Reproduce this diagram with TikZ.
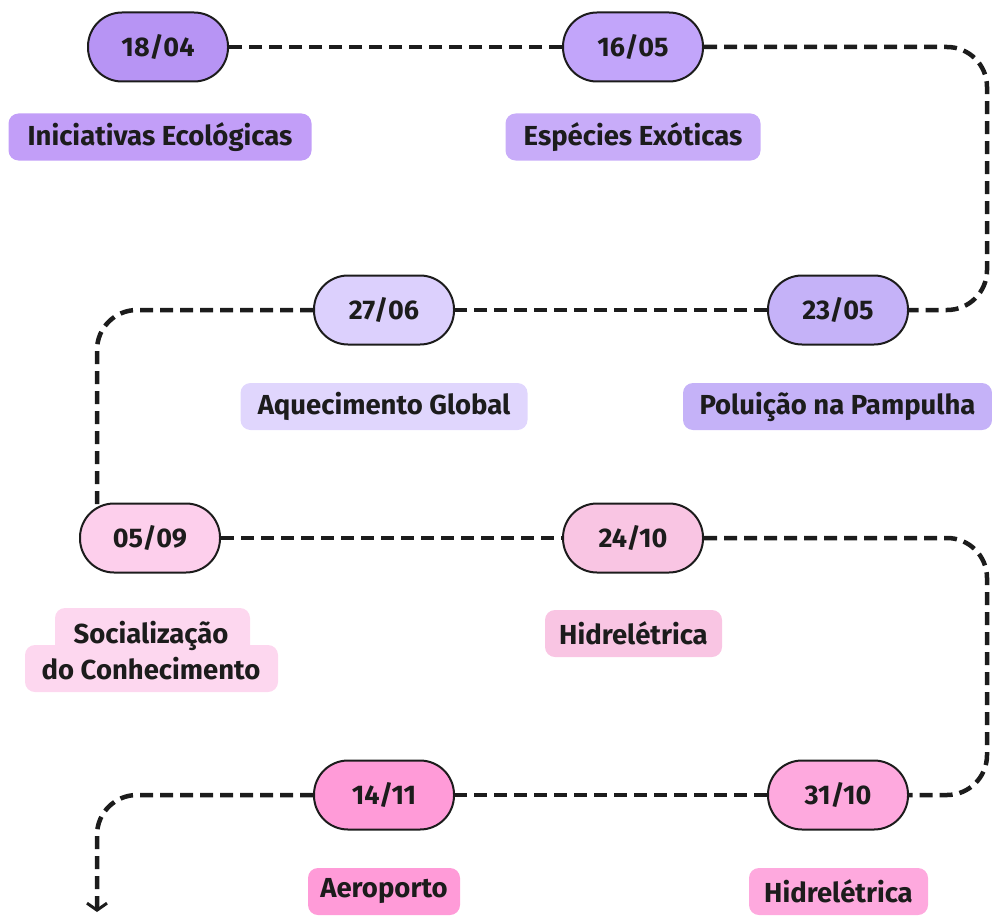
\documentclass[tikz,border=0pt]{standalone}
\usepackage{fontspec}
\setmainfont{Fira Sans}
\usetikzlibrary{arrows.meta,backgrounds,calc}
\definecolor{ink}{HTML}{1C1C1C}
\definecolor{pA}{HTML}{B794F4}
\definecolor{lA}{HTML}{C29EF8}
\definecolor{pB}{HTML}{C2A5FA}
\definecolor{lB}{HTML}{C8ACF9}
\definecolor{pC}{HTML}{DCD0FD}
\definecolor{lC}{HTML}{E0D6FD}
\definecolor{pD}{HTML}{C5B2F8}
\definecolor{pE}{HTML}{FDCFEC}
\definecolor{lE}{HTML}{FDD7EF}
\definecolor{pF}{HTML}{F9C5E3}
\definecolor{pG}{HTML}{FF9BD8}
\definecolor{pH}{HTML}{FEA9DE}
\begin{document}
\begin{tikzpicture}[x=1pt,y=-1pt,
  pill/.style={draw=ink, line width=2pt, rounded corners=34pt, minimum width=140pt,
    minimum height=69pt, inner sep=0pt, text=ink,
    font=\fontsize{27}{30}\selectfont\bfseries},
  lab/.style={rounded corners=10pt, minimum height=47pt, inner sep=0pt, text=ink,
    font=\fontsize{27.5}{30}\selectfont\bfseries},
  conn/.style={draw=ink, line width=4.5pt, dash pattern=on 13pt off 7pt, rounded corners=40pt}]
\useasboundingbox (0,0) rectangle (992,915);

% pills
\node[pill, fill=pA] (d1804) at (158,47) {18/04};
\node[pill, fill=pB] (d1605) at (633,47) {16/05};
\node[pill, fill=pC] (d2706) at (384,310) {27/06};
\node[pill, fill=pD] (d2305) at (838,310) {23/05};
\node[pill, fill=pE] (d0509) at (150,538) {05/09};
\node[pill, fill=pF] (d2410) at (633,538) {24/10};
\node[pill, fill=pG] (d1411) at (384,795) {14/11};
\node[pill, fill=pH] (d3110) at (838,795) {31/10};

% labels
\node[lab, fill=lA, minimum width=303pt] (l1) at (160,137) {Iniciativas Ecológicas};
\node[lab, fill=lB, minimum width=255pt] (l2) at (633,137) {Espécies Exóticas};
\node[lab, fill=lC, minimum width=287pt] (l3) at (384,406.5) {Aquecimento Global};
\node[lab, fill=pD, minimum width=309pt] (l4) at (837.5,406.5) {Poluição na Pampulha};
\fill[lE, rounded corners=10pt] (55,608) rectangle (250,660);
\fill[lE, rounded corners=10pt] (25,645) rectangle (278,692);
\node[text=ink, align=center, inner sep=0pt,
  font=\fontsize{27.5}{36}\selectfont\bfseries] (l5) at (151,651) {Socialização\\do Conhecimento};
\node[lab, fill=pF, minimum width=177pt] (l6) at (633.5,633.5) {Hidrelétrica};
\node[lab, fill=pG, minimum width=152pt] (l7) at (384,891.5) {Aeroporto};
\node[lab, fill=pH, minimum width=179pt] (l8) at (838.5,891.5) {Hidrelétrica};

% corner points
\coordinate (c1) at (987,47);
\coordinate (c2) at (987,310);
\coordinate (c3) at (97,310);
\coordinate (c4) at (97,520);
\coordinate (c5) at (987,538);
\coordinate (c6) at (987,795);
\coordinate (c7) at (97,795);
\coordinate (c8) at (97,912);

\begin{scope}[on background layer]
\draw[conn] (d1804.east) -- (d1605.west);
\draw[conn] (d1605.east) -- (c1) -- (c2) -- (d2305.east);
\draw[conn] (d2305.west) -- (d2706.east);
\draw[conn] (d2706.west) -- (c3) -- (c4);
\draw[conn] (d0509.east) -- (d2410.west);
\draw[conn] (d2410.east) -- (c5) -- (c6) -- (d3110.east);
\draw[conn] (d3110.west) -- (d1411.east);
\draw[conn, -{Straight Barb[length=7pt,width=20pt,line width=3pt]}] (d1411.west) -- (c7) -- (c8);
\end{scope}
\end{tikzpicture}
\end{document}
